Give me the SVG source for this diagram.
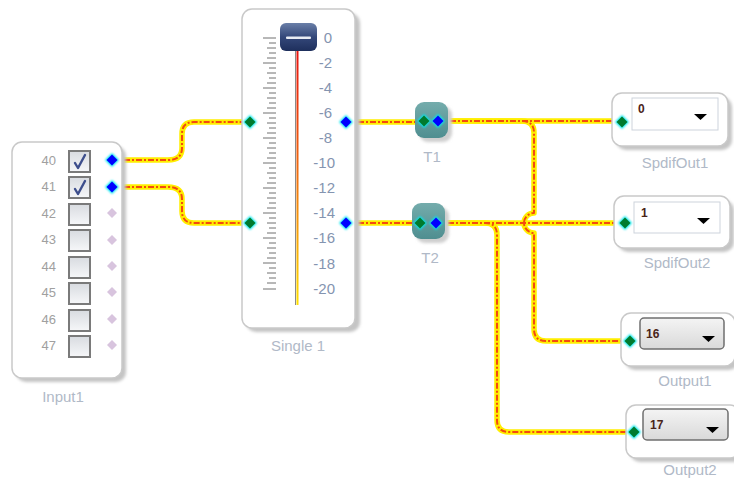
<svg xmlns="http://www.w3.org/2000/svg" width="734" height="481" viewBox="0 0 734 481">
  <style>
    .box { fill: #ffffff; stroke: #c9c9c9; stroke-width: 1.5; }
    .shadow { fill: #c4c4c4; filter: url(#soft); }
    .label { font-family: "Liberation Sans", Arial, sans-serif; font-size: 15px; fill: #b0b9c7; text-anchor: middle; }
    .num { font-family: "Liberation Sans", Arial, sans-serif; font-size: 13px; fill: #a0a0a0; text-anchor: end; }
    .scale { font-family: "Liberation Sans", Arial, sans-serif; font-size: 15px; fill: #8494b0; text-anchor: end; }
    .val { font-family: "Liberation Sans", Arial, sans-serif; font-size: 12px; font-weight: bold; fill: #4a2418; }
    .wire-base { fill: none; stroke: #ffee00; stroke-width: 5.5; stroke-linecap: round; stroke-linejoin: round; }
    .wire-dash { fill: none; stroke: #f34a10; stroke-width: 2; stroke-dasharray: 6 2 2 2; stroke-linejoin: round; }
    .cb { fill: url(#cbFill); stroke: #7a7a7a; stroke-width: 2; }
    .tick { stroke: #707070; stroke-width: 1; }
    .dd-white { fill: #ffffff; stroke: #cdd3dc; stroke-width: 1; }
    .dd-gray { fill: url(#ddFill); stroke: #6f6f6f; stroke-width: 1.5; }
    .arrow { fill: #000000; }
  </style>
  <defs>
    <filter id="soft" x="-20%" y="-20%" width="140%" height="140%">
      <feGaussianBlur stdDeviation="1.5"/>
    </filter>
    <filter id="glow" x="-50%" y="-50%" width="200%" height="200%">
      <feGaussianBlur stdDeviation="1.2"/>
    </filter>
    <linearGradient id="cbFill" x1="0" y1="0" x2="0" y2="1">
      <stop offset="0" stop-color="#d8dbe0"/>
      <stop offset="1" stop-color="#f6f7f9"/>
    </linearGradient>
    <linearGradient id="ddFill" x1="0" y1="0" x2="0" y2="1">
      <stop offset="0" stop-color="#f4f4f4"/>
      <stop offset="1" stop-color="#d9d9d9"/>
    </linearGradient>
    <linearGradient id="thumbFill" x1="0" y1="0" x2="0" y2="1">
      <stop offset="0" stop-color="#6a7fa8"/>
      <stop offset="0.5" stop-color="#34487a"/>
      <stop offset="1" stop-color="#1e2f5c"/>
    </linearGradient>
    <linearGradient id="trackFill" x1="0" y1="0" x2="0" y2="1">
      <stop offset="0" stop-color="#e81010"/>
      <stop offset="0.5" stop-color="#f07010"/>
      <stop offset="1" stop-color="#ffe000"/>
    </linearGradient>
    <linearGradient id="tFill" x1="0" y1="0" x2="0" y2="1">
      <stop offset="0" stop-color="#74acac"/>
      <stop offset="1" stop-color="#4f8e90"/>
    </linearGradient>
    <g id="portIn">
      <path d="M0,-7 L7,0 L0,7 L-7,0 Z" fill="#00e8f0" filter="url(#glow)"/>
      <path d="M0,-5.5 L5.5,0 L0,5.5 L-5.5,0 Z" fill="#007a2e"/>
    </g>
    <g id="portOut">
      <path d="M0,-7 L7,0 L0,7 L-7,0 Z" fill="#00e8f0" filter="url(#glow)"/>
      <path d="M0,-5.5 L5.5,0 L0,5.5 L-5.5,0 Z" fill="#0000ff"/>
    </g>
    <path id="portOff" d="M0,-5 L5,0 L0,5 L-5,0 Z" fill="#d8c4de"/>
    <path id="check" d="M-5,1 L-2,6 L5,-7" fill="none" stroke="#3d4e8c" stroke-width="2.4" stroke-linecap="round" stroke-linejoin="round"/>
  </defs>

  <rect width="734" height="481" fill="#ffffff"/>

  <!-- connectors -->
  <g id="connectors">
    <g class="wire-base">
      <path d="M112,160 H168 Q182,160 182,148 V134 Q182,122 194,122 H250"/>
      <path d="M112,187 H168 Q182,187 182,199 V211 Q182,223 194,223 H250"/>
      <path d="M346,122 H424"/>
      <path d="M346,223 H420"/>
      <path d="M438,121 H622"/>
      <path d="M436,223 H625"/>
      <path d="M436,223 H485 Q497,223 497,235 V420 Q497,432 509,432 H634"/>
      <path d="M438,121 H522 Q534,121 534,133 V213 A10,10 0 0 0 534,233 V329 Q534,341 546,341 H630"/>
    </g>
    <g class="wire-dash">
      <path d="M112,160 H168 Q182,160 182,148 V134 Q182,122 194,122 H250"/>
      <path d="M112,187 H168 Q182,187 182,199 V211 Q182,223 194,223 H250"/>
      <path d="M346,122 H424"/>
      <path d="M346,223 H420"/>
      <path d="M438,121 H622"/>
      <path d="M436,223 H625"/>
      <path d="M436,223 H485 Q497,223 497,235 V420 Q497,432 509,432 H634"/>
      <path d="M438,121 H522 Q534,121 534,133 V213 A10,10 0 0 0 534,233 V329 Q534,341 546,341 H630"/>
    </g>
  </g>

  <!-- input selector -->
  <g id="Input1">
    <rect class="shadow" x="16" y="146" width="110" height="236" rx="10"/>
    <rect class="box" x="12" y="142" width="110" height="236" rx="10"/>
    <text class="num" x="56" y="165">40</text>
    <text class="num" x="56" y="191">41</text>
    <text class="num" x="56" y="218">42</text>
    <text class="num" x="56" y="244">43</text>
    <text class="num" x="56" y="271">44</text>
    <text class="num" x="56" y="297">45</text>
    <text class="num" x="56" y="324">46</text>
    <text class="num" x="56" y="350">47</text>
    <rect class="cb" x="69" y="151" width="21" height="21"/>
    <rect class="cb" x="69" y="177" width="21" height="21"/>
    <rect class="cb" x="69" y="204" width="21" height="21"/>
    <rect class="cb" x="69" y="230" width="21" height="21"/>
    <rect class="cb" x="69" y="257" width="21" height="21"/>
    <rect class="cb" x="69" y="283" width="21" height="21"/>
    <rect class="cb" x="69" y="310" width="21" height="21"/>
    <rect class="cb" x="69" y="336" width="21" height="21"/>
    <use href="#check" x="80" y="162"/>
    <use href="#check" x="80" y="188"/>
    <use href="#portOut" x="112" y="160"/>
    <use href="#portOut" x="112" y="187"/>
    <use href="#portOff" x="112" y="213"/>
    <use href="#portOff" x="112" y="240"/>
    <use href="#portOff" x="112" y="266"/>
    <use href="#portOff" x="112" y="292"/>
    <use href="#portOff" x="112" y="319"/>
    <use href="#portOff" x="112" y="345"/>
    <text class="label" x="63" y="402">Input1</text>
  </g>

  <!-- fader -->
  <g id="Single1">
    <rect class="shadow" x="246" y="13" width="114" height="319" rx="10"/>
    <rect class="box" x="242" y="9" width="113" height="319" rx="10"/>
    <g id="ticks">
      <line class="tick" x1="263" y1="38" x2="276" y2="38"/>
      <line class="tick" x1="269" y1="43" x2="276" y2="43"/>
      <line class="tick" x1="267" y1="48" x2="276" y2="48"/>
      <line class="tick" x1="269" y1="53" x2="276" y2="53"/>
      <line class="tick" x1="267" y1="58" x2="276" y2="58"/>
      <line class="tick" x1="263" y1="63" x2="276" y2="63"/>
      <line class="tick" x1="269" y1="68" x2="276" y2="68"/>
      <line class="tick" x1="267" y1="73" x2="276" y2="73"/>
      <line class="tick" x1="269" y1="78" x2="276" y2="78"/>
      <line class="tick" x1="267" y1="83" x2="276" y2="83"/>
      <line class="tick" x1="263" y1="88" x2="276" y2="88"/>
      <line class="tick" x1="269" y1="93" x2="276" y2="93"/>
      <line class="tick" x1="267" y1="98" x2="276" y2="98"/>
      <line class="tick" x1="269" y1="103" x2="276" y2="103"/>
      <line class="tick" x1="267" y1="108" x2="276" y2="108"/>
      <line class="tick" x1="263" y1="113" x2="276" y2="113"/>
      <line class="tick" x1="269" y1="118" x2="276" y2="118"/>
      <line class="tick" x1="267" y1="123" x2="276" y2="123"/>
      <line class="tick" x1="269" y1="128" x2="276" y2="128"/>
      <line class="tick" x1="267" y1="133" x2="276" y2="133"/>
      <line class="tick" x1="263" y1="138" x2="276" y2="138"/>
      <line class="tick" x1="269" y1="143" x2="276" y2="143"/>
      <line class="tick" x1="267" y1="148" x2="276" y2="148"/>
      <line class="tick" x1="269" y1="153" x2="276" y2="153"/>
      <line class="tick" x1="267" y1="158" x2="276" y2="158"/>
      <line class="tick" x1="263" y1="163" x2="276" y2="163"/>
      <line class="tick" x1="269" y1="168" x2="276" y2="168"/>
      <line class="tick" x1="267" y1="173" x2="276" y2="173"/>
      <line class="tick" x1="269" y1="178" x2="276" y2="178"/>
      <line class="tick" x1="267" y1="183" x2="276" y2="183"/>
      <line class="tick" x1="263" y1="188" x2="276" y2="188"/>
      <line class="tick" x1="269" y1="193" x2="276" y2="193"/>
      <line class="tick" x1="267" y1="198" x2="276" y2="198"/>
      <line class="tick" x1="269" y1="203" x2="276" y2="203"/>
      <line class="tick" x1="267" y1="208" x2="276" y2="208"/>
      <line class="tick" x1="263" y1="213" x2="276" y2="213"/>
      <line class="tick" x1="269" y1="218" x2="276" y2="218"/>
      <line class="tick" x1="267" y1="223" x2="276" y2="223"/>
      <line class="tick" x1="269" y1="228" x2="276" y2="228"/>
      <line class="tick" x1="267" y1="233" x2="276" y2="233"/>
      <line class="tick" x1="263" y1="238" x2="276" y2="238"/>
      <line class="tick" x1="269" y1="243" x2="276" y2="243"/>
      <line class="tick" x1="267" y1="248" x2="276" y2="248"/>
      <line class="tick" x1="269" y1="253" x2="276" y2="253"/>
      <line class="tick" x1="267" y1="258" x2="276" y2="258"/>
      <line class="tick" x1="263" y1="263" x2="276" y2="263"/>
      <line class="tick" x1="269" y1="268" x2="276" y2="268"/>
      <line class="tick" x1="267" y1="273" x2="276" y2="273"/>
      <line class="tick" x1="269" y1="278" x2="276" y2="278"/>
      <line class="tick" x1="267" y1="283" x2="276" y2="283"/>
      <line class="tick" x1="263" y1="289" x2="276" y2="289"/>
    </g>
    <line x1="295.5" y1="45" x2="295.5" y2="305" stroke="#8a8a8a" stroke-width="1"/>
    <rect x="296.5" y="45" width="2" height="260" fill="url(#trackFill)"/>
    <rect x="280" y="23" width="37" height="28" rx="6" fill="url(#thumbFill)"/>
    <rect x="286" y="36.5" width="25" height="2.5" rx="1" fill="#e8ecf4"/>
    <text class="scale" x="332" y="43">0</text>
    <text class="scale" x="332" y="68">-2</text>
    <text class="scale" x="332" y="93">-4</text>
    <text class="scale" x="332" y="118">-6</text>
    <text class="scale" x="332" y="143">-8</text>
    <text class="scale" x="335" y="168">-10</text>
    <text class="scale" x="335" y="193">-12</text>
    <text class="scale" x="335" y="218">-14</text>
    <text class="scale" x="335" y="243">-16</text>
    <text class="scale" x="335" y="269">-18</text>
    <text class="scale" x="335" y="294">-20</text>
    <use href="#portIn" x="250" y="122"/>
    <use href="#portIn" x="250" y="223"/>
    <use href="#portOut" x="346" y="122"/>
    <use href="#portOut" x="346" y="223"/>
    <text class="label" x="298" y="351">Single 1</text>
  </g>

  <!-- splitters -->
  <g id="T1">
    <rect x="419" y="106" width="33" height="36" rx="9" fill="#cfcfcf" filter="url(#soft)"/>
    <rect x="415" y="102" width="33" height="36" rx="9" fill="url(#tFill)"/>
    <use href="#portIn" x="424" y="121"/>
    <use href="#portOut" x="438" y="121"/>
    <text class="label" x="432" y="162">T1</text>
  </g>
  <g id="T2">
    <rect x="416" y="207" width="33" height="36" rx="9" fill="#cfcfcf" filter="url(#soft)"/>
    <rect x="412" y="203" width="33" height="36" rx="9" fill="url(#tFill)"/>
    <use href="#portIn" x="420" y="223"/>
    <use href="#portOut" x="436" y="223"/>
    <text class="label" x="430" y="263">T2</text>
  </g>

  <!-- output selectors -->
  <g id="SpdifOut1">
    <rect class="shadow" x="616" y="97" width="116" height="53" rx="10"/>
    <rect class="box" x="612" y="93" width="116" height="53" rx="10"/>
    <rect class="dd-white" x="632" y="98" width="86" height="32"/>
    <text class="val" x="638" y="113">0</text>
    <path class="arrow" d="M694,114 H707 L700.5,120 Z"/>
    <use href="#portIn" x="622" y="122"/>
    <text class="label" x="675" y="168">SpdifOut1</text>
  </g>
  <g id="SpdifOut2">
    <rect class="shadow" x="618" y="200" width="116" height="52" rx="10"/>
    <rect class="box" x="614" y="196" width="116" height="52" rx="10"/>
    <rect class="dd-white" x="634" y="202" width="86" height="31"/>
    <text class="val" x="641" y="217">1</text>
    <path class="arrow" d="M697,218 H710 L703.5,224 Z"/>
    <use href="#portIn" x="625" y="223"/>
    <text class="label" x="677" y="268">SpdifOut2</text>
  </g>
  <g id="Output1">
    <rect class="shadow" x="625" y="317" width="114" height="53" rx="10"/>
    <rect class="box" x="621" y="313" width="114" height="53" rx="10"/>
    <rect class="dd-gray" x="640" y="318" width="84" height="31" rx="4"/>
    <text class="val" x="646" y="338">16</text>
    <path class="arrow" d="M702,336 H715 L708.5,342 Z"/>
    <use href="#portIn" x="630" y="341"/>
    <text class="label" x="685" y="386">Output1</text>
  </g>
  <g id="Output2">
    <rect class="shadow" x="630" y="409" width="114" height="53" rx="10"/>
    <rect class="box" x="626" y="405" width="114" height="53" rx="10"/>
    <rect class="dd-gray" x="643" y="409" width="85" height="31" rx="4"/>
    <text class="val" x="650" y="429">17</text>
    <path class="arrow" d="M706,427 H719 L712.5,433 Z"/>
    <use href="#portIn" x="634" y="432"/>
    <text class="label" x="690" y="475">Output2</text>
  </g>
</svg>
